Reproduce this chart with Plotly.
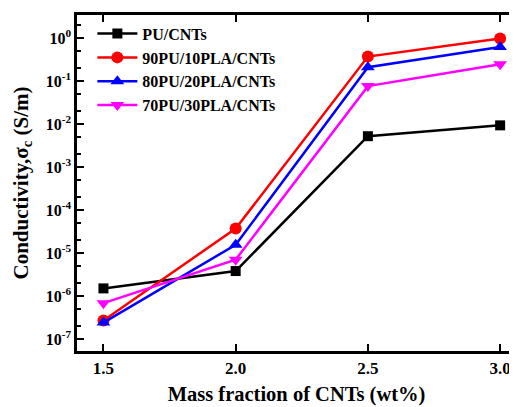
import plotly.graph_objects as go

x_vals = [1.5, 2.0, 2.5, 3.0]
pu_cnts = [1.5e-6, 3.8e-6, 5.2e-3, 9.3e-3]
pu90_pla10 = [2.7e-7, 3.7e-5, 0.37, 0.97]
pu80_pla20 = [2.4e-7, 1.55e-5, 0.21, 0.62]
pu70_pla30 = [6.8e-7, 7.0e-6, 0.076, 0.245]

series_names = ["PU/CNTs", "90PU/10PLA/CNTs", "80PU/20PLA/CNTs", "70PU/30PLA/CNTs"]
series_vals = [pu_cnts, pu90_pla10, pu80_pla20, pu70_pla30]
colors = ["#000000", "#ff0000", "#0000ff", "#ff00ff"]
symbols = ["square", "circle", "triangle-up", "triangle-down"]
marker_sizes = [10, 12, 12, 12]

y_tickvals = [1e-7, 1e-6, 1e-5, 1e-4, 1e-3, 1e-2, 1e-1, 1e0]
y_ticktext = ["10<sup>-7</sup>", "10<sup>-6</sup>", "10<sup>-5</sup>", "10<sup>-4</sup>",
              "10<sup>-3</sup>", "10<sup>-2</sup>", "10<sup>-1</sup>", "10<sup>0</sup>"]
x_tickvals = [1.5, 2.0, 2.5, 3.0]
x_ticktext = ["1.5", "2.0", "2.5", "3.0"]

fig = go.Figure()
for name, vals, c, s, ms in zip(series_names, series_vals, colors, symbols, marker_sizes):
    fig.add_trace(go.Scatter(
        x=x_vals, y=vals, name=name, mode="lines+markers",
        line=dict(color=c, width=2.5),
        marker=dict(color=c, symbol=s, size=ms),
    ))

font_family = "Liberation Serif"
fig.update_layout(
    width=509, height=399,
    margin=dict(l=69, r=1, t=7, b=56),
    plot_bgcolor="white", paper_bgcolor="white",
    font=dict(family=font_family, color="black", size=16, weight="bold"),
    showlegend=True,
    legend=dict(x=0.035, y=0.995, xanchor="left", yanchor="top",
                bgcolor="rgba(0,0,0,0)", font=dict(size=16, family=font_family, weight="bold"),
                tracegroupgap=0, itemwidth=40),
    xaxis=dict(
        range=[1.40, 3.06], tickvals=x_tickvals, ticktext=x_ticktext,
        ticks="inside", ticklen=7, tickwidth=2, tickcolor="black",
        showline=True, linewidth=2.5, linecolor="black", mirror="ticks",
        showgrid=False, zeroline=False, automargin=False,
        tickfont=dict(size=17, family=font_family, weight="bold"),
        title=dict(text="Mass fraction of CNTs (wt%)", standoff=10,
                   font=dict(size=20.5, family=font_family, weight="bold")),
    ),
    yaxis=dict(
        type="log", range=[-7.28, 0.535], tickvals=y_tickvals, ticktext=y_ticktext,
        ticks="inside", ticklen=7, tickwidth=2, tickcolor="black",
        minor=dict(ticks="inside", ticklen=4, tickwidth=1.5, tickcolor="black", showgrid=False),
        showline=True, linewidth=2.5, linecolor="black", mirror="ticks",
        showgrid=False, zeroline=False, automargin=False,
        tickfont=dict(size=16, family=font_family, weight="bold"),
        title=dict(text="Conductivity,σ<sub>c</sub> (S/m)", standoff=12,
                   font=dict(size=21, family=font_family, weight="bold")),
    ),
)

fig.write_html("out.html")
